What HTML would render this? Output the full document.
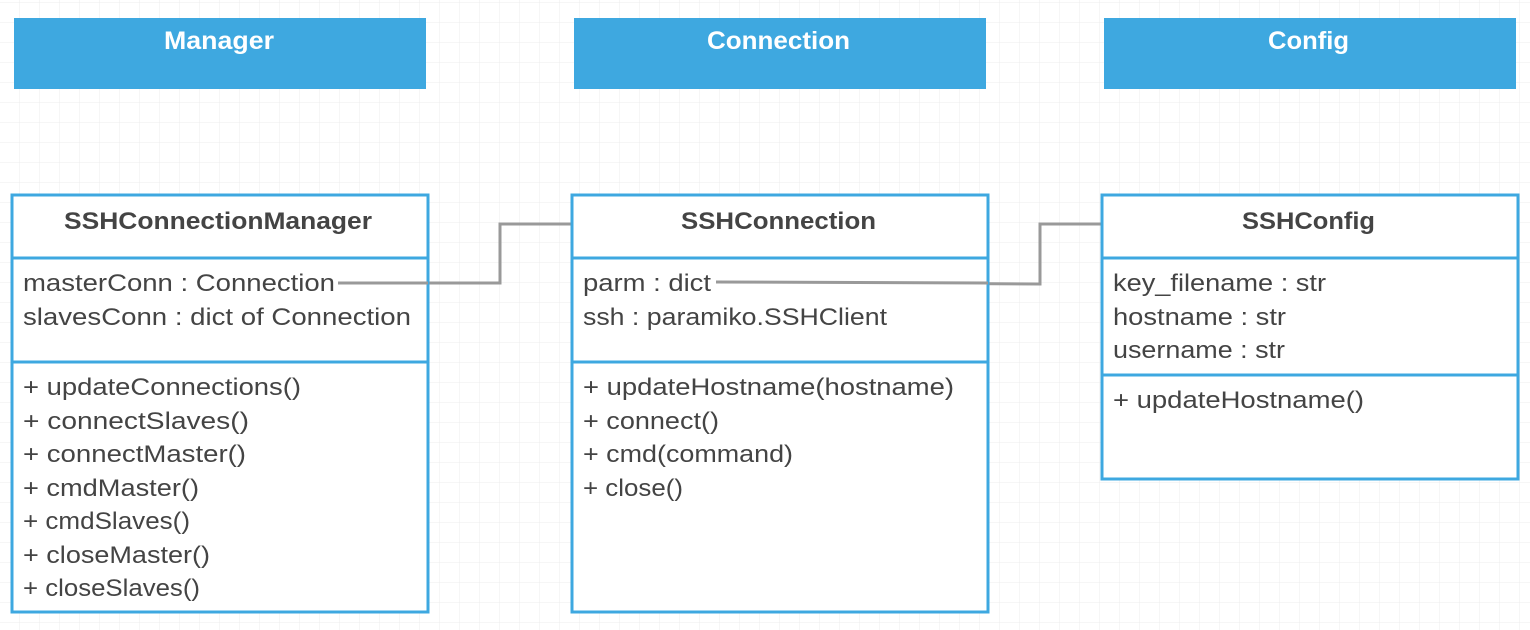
<!DOCTYPE html>
<html><head><style>
html,body{margin:0;padding:0;background:#fff;}
svg{display:block;}
text{font-family:"Liberation Sans",sans-serif;fill:#444;font-size:24px;}
.h{font-weight:bold;font-size:24px;}
.w{fill:#fff;font-weight:bold;font-size:25px;}
</style></head><body>
<svg width="1530" height="630" xmlns="http://www.w3.org/2000/svg">
<defs>
<pattern id="g" width="20" height="20" patternUnits="userSpaceOnUse" y="3">
<path d="M20 0V20M0 20H20" stroke="#ececec" stroke-width="1" fill="none"/>
</pattern>
</defs>
<rect width="1530" height="630" fill="url(#g)"/>
<g fill="#3ea8e0">
<rect x="14" y="18" width="412" height="71"/>
<rect x="574" y="18" width="412" height="71"/>
<rect x="1104" y="18" width="412" height="71"/>
</g>
<g lengthAdjust="spacingAndGlyphs">
<text class="w" x="164" y="49" textLength="110" lengthAdjust="spacingAndGlyphs">Manager</text>
<text class="w" x="707" y="49" textLength="143" lengthAdjust="spacingAndGlyphs">Connection</text>
<text class="w" x="1268" y="49" textLength="81" lengthAdjust="spacingAndGlyphs">Config</text>
</g>

<g fill="none" stroke="#999" stroke-width="3">
<polyline points="340,283 500,283 500,224 571,224"/>
<polyline points="716,282 1040,284 1040,224 1101,224"/>
</g>

<g fill="#fff" stroke="#3ea8e0" stroke-width="3">
<rect x="12" y="195" width="416" height="417"/>
<rect x="572" y="195" width="416" height="417"/>
<rect x="1102" y="195" width="416" height="284"/>
</g>
<g stroke="#3ea8e0" stroke-width="3">
<line x1="12" y1="258" x2="428" y2="258"/><line x1="12" y1="362" x2="428" y2="362"/>
<line x1="572" y1="258" x2="988" y2="258"/><line x1="572" y1="362" x2="988" y2="362"/>
<line x1="1102" y1="258" x2="1518" y2="258"/><line x1="1102" y1="375" x2="1518" y2="375"/>
</g>

<text class="h" x="64" y="229" textLength="308" lengthAdjust="spacingAndGlyphs">SSHConnectionManager</text>
<text class="h" x="681" y="229" textLength="195" lengthAdjust="spacingAndGlyphs">SSHConnection</text>
<text class="h" x="1242" y="229" textLength="133" lengthAdjust="spacingAndGlyphs">SSHConfig</text>

<text x="23" y="291" textLength="312" lengthAdjust="spacingAndGlyphs">masterConn : Connection</text>
<text x="23" y="325" textLength="388" lengthAdjust="spacingAndGlyphs">slavesConn : dict of Connection</text>
<text x="23" y="395" textLength="278" lengthAdjust="spacingAndGlyphs">+ updateConnections()</text>
<text x="23" y="429" textLength="226" lengthAdjust="spacingAndGlyphs">+ connectSlaves()</text>
<text x="23" y="462" textLength="223" lengthAdjust="spacingAndGlyphs">+ connectMaster()</text>
<text x="23" y="496" textLength="176" lengthAdjust="spacingAndGlyphs">+ cmdMaster()</text>
<text x="23" y="529" textLength="167" lengthAdjust="spacingAndGlyphs">+ cmdSlaves()</text>
<text x="23" y="563" textLength="187" lengthAdjust="spacingAndGlyphs">+ closeMaster()</text>
<text x="23" y="596" textLength="177" lengthAdjust="spacingAndGlyphs">+ closeSlaves()</text>

<text x="583" y="291" textLength="128" lengthAdjust="spacingAndGlyphs">parm : dict</text>
<text x="583" y="325" textLength="304" lengthAdjust="spacingAndGlyphs">ssh : paramiko.SSHClient</text>
<text x="583" y="395" textLength="371" lengthAdjust="spacingAndGlyphs">+ updateHostname(hostname)</text>
<text x="583" y="429" textLength="136" lengthAdjust="spacingAndGlyphs">+ connect()</text>
<text x="583" y="462" textLength="210" lengthAdjust="spacingAndGlyphs">+ cmd(command)</text>
<text x="583" y="496" textLength="100" lengthAdjust="spacingAndGlyphs">+ close()</text>

<text x="1113" y="291" textLength="213" lengthAdjust="spacingAndGlyphs">key_filename : str</text>
<text x="1113" y="325" textLength="173" lengthAdjust="spacingAndGlyphs">hostname : str</text>
<text x="1113" y="358" textLength="172" lengthAdjust="spacingAndGlyphs">username : str</text>
<text x="1113" y="408" textLength="251" lengthAdjust="spacingAndGlyphs">+ updateHostname()</text>

<g fill="none" stroke="#999" stroke-width="3">
<line x1="338" y1="283" x2="428" y2="283"/>
<line x1="716" y1="282" x2="988" y2="283"/>
</g>
</svg>
</body></html>
